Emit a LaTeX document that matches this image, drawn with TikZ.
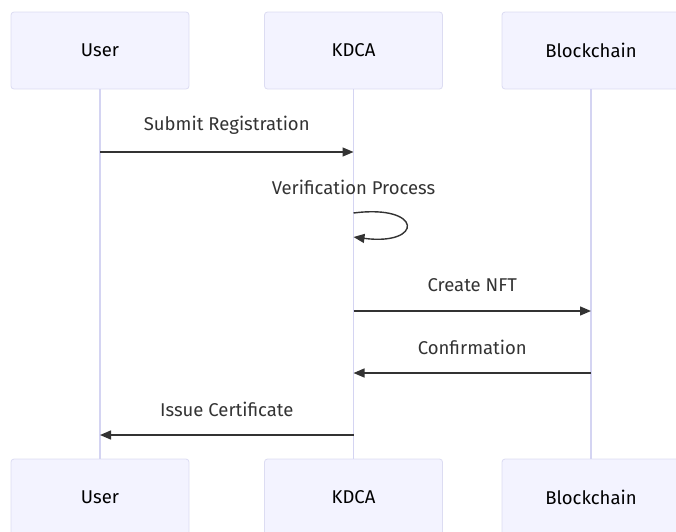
\documentclass[tikz,border=0pt]{standalone}
\usepackage{fontspec}
\setmainfont{Fira Sans}
\usepackage{tikz}
\usetikzlibrary{arrows.meta,positioning,calc}
\definecolor{actorfill}{HTML}{F3F3FF}
\definecolor{actorline}{HTML}{DCDCF2}
\definecolor{lifecol}{HTML}{D4D4F2}
\definecolor{msgcol}{HTML}{333333}
\tikzset{
    x=1pt, y=-1pt,
    actor/.style = {rectangle, rounded corners=3pt, draw=actorline, fill=actorfill, line width=0.8pt,
        minimum width=178pt, minimum height=77pt, text=black, font=\fontsize{18.5}{20}\selectfont},
    life/.style = {draw=lifecol, line width=1.2pt},
    msg/.style = {draw=msgcol, line width=1.4pt, -{Triangle[length=11pt,width=9pt]}},
    lbl/.style = {text=msgcol, font=\fontsize{18.5}{20}\selectfont, inner sep=0pt}
}
\begin{document}
\begin{tikzpicture}
    \useasboundingbox (0,0) rectangle (676,531);
    % Actors top
    \node[actor] (usertop) at (100,50.5) {User};
    \node[actor] (kdcatop) at (353.5,50.5) {KDCA};
    \node[actor] (chaintop) at (591,50.5) {Blockchain};
    
    % Actors bottom
    \node[actor] (userbot) at (100,497.5) {User};
    \node[actor] (kdcabot) at (353.5,497.5) {KDCA};
    \node[actor] (chainbot) at (591,497.5) {Blockchain};
    
    % Lifelines
    \draw[life] (usertop.south) -- (userbot.north);
    \draw[life] (kdcatop.south) -- (kdcabot.north);
    \draw[life] (chaintop.south) -- (chainbot.north);
    
    % Points on the lifelines
    \coordinate (u1) at (usertop.south |- 0,152);
    \coordinate (k1) at (kdcatop.south |- 0,152);
    \coordinate (k2) at (kdcatop.south |- 0,213);
    \coordinate (k3) at (kdcatop.south |- 0,237);
    \coordinate (k4) at (kdcatop.south |- 0,311);
    \coordinate (c4) at (chaintop.south |- 0,311);
    \coordinate (k5) at (kdcatop.south |- 0,373);
    \coordinate (c5) at (chaintop.south |- 0,373);
    \coordinate (k6) at (kdcatop.south |- 0,435);
    \coordinate (u6) at (usertop.south |- 0,435);
    
    % Messages
    \draw[msg] (u1) -- (k1);
    \node[lbl] (submit) at ($(u1)!0.5!(k1)+(0,-27)$) {Submit Registration};
    
    \draw[msg] (k2) .. controls ($(k2)+(70,-9)$) and ($(k3)+(70,9)$) .. (k3);
    \node[lbl] (verify) at ($(k2)+(0,-26)$) {Verification Process};
    
    \draw[msg] (k4) -- (c4);
    \node[lbl] (create) at ($(k4)!0.5!(c4)+(0,-26)$) {Create NFT};
    
    \draw[msg] (c5) -- (k5);
    \node[lbl] (confirm) at ($(k5)!0.5!(c5)+(0,-26)$) {Confirmation};
    
    \draw[msg] (k6) -- (u6);
    \node[lbl] (issue) at ($(u6)!0.5!(k6)+(0,-26)$) {Issue Certificate};
\end{tikzpicture}
\end{document}
